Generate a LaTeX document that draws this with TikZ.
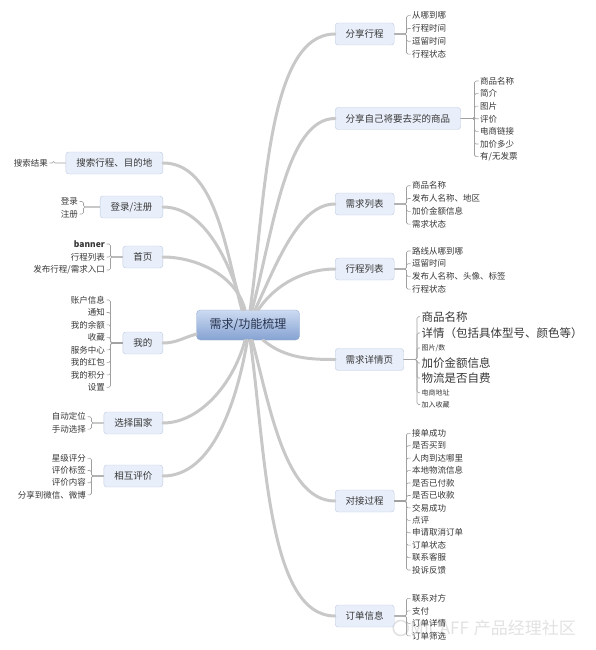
\documentclass[tikz,border=0pt]{standalone}
\usepackage{fontspec}
\setmainfont{Noto Sans CJK SC}
\usepackage{xcolor}
\usepackage{tikz}
\usetikzlibrary{positioning,calc}
\definecolor{topicbg}{RGB}{233,239,250}
\definecolor{topicline}{RGB}{190,203,226}
\definecolor{roothigh}{RGB}{205,219,242}
\definecolor{rootlow}{RGB}{133,162,210}
\definecolor{rootline}{RGB}{145,170,208}
\definecolor{trunkgray}{RGB}{200,200,200}
\definecolor{twiggray}{RGB}{160,160,160}
\definecolor{inkgray}{RGB}{55,55,55}
\definecolor{rootink}{RGB}{40,52,78}
\definecolor{markgray}{RGB}{226,226,226}

\begin{document}
\begin{tikzpicture}[x=1pt,y=-1pt,
  root/.style={draw=rootline,rounded corners=4pt,top color=roothigh,bottom color=rootlow,minimum width=103pt,minimum height=30pt,font=\fontsize{12}{14}\selectfont,text=rootink},
  topic/.style={draw=topicline,rounded corners=3pt,fill=topicbg,minimum height=22pt,inner xsep=10.5pt,font=\fontsize{9.5}{11}\selectfont,text=inkgray},
  kid/.style={inner sep=1.5pt,font=\fontsize{8.5}{10}\selectfont,text=inkgray},
  kidbig/.style={inner sep=1.5pt,font=\fontsize{11.5}{12}\selectfont,text=inkgray},
  kidsmall/.style={inner sep=1.5pt,font=\fontsize{7}{8}\selectfont,text=inkgray},
  trunk/.style={draw=trunkgray,line width=3pt,line cap=round},
  twig/.style={draw=twiggray,line width=0.6pt,rounded corners=1.5pt}]
\useasboundingbox (0,0) rectangle (596,650);

% watermark
\node[anchor=west,text=markgray,font=\fontsize{17}{17}\selectfont,inner sep=0pt] (mark) at (410,628) {MICAFF\hspace{5pt}产品经理社区};
\node[circle,draw=markgray,line width=1.6pt,minimum size=15pt,left=1pt of mark] (logo) {};

% centre and main topics
\node[root] (c) at (248,325) {需求/功能梳理};

\node[topic,anchor=west] (trip) at (335,34) {分享行程};
\node[topic,anchor=west] (goods) at (335,118.5) {分享自己将要去买的商品};
\node[topic,anchor=west] (need) at (335,204) {需求列表};
\node[topic,anchor=west] (route) at (335,269) {行程列表};
\node[topic,anchor=west] (detail) at (335,359.5) {需求详情页};
\node[topic,anchor=west] (deal) at (335,501) {对接过程};
\node[topic,anchor=west] (order) at (335,616) {订单信息};

\node[topic,anchor=east] (search) at (163,163) {搜索行程、目的地};
\node[topic,anchor=east] (login) at (163,207) {登录/注册};
\node[topic,anchor=east] (home) at (163,257) {首页};
\node[topic,anchor=east] (mine) at (163,343) {我的};
\node[topic,anchor=east] (nation) at (163,423) {选择国家};
\node[topic,anchor=east] (rate) at (163,476) {相互评价};

% trunks
\draw[trunk] (c.82) to[out=82,in=180,in looseness=0.6] (trip.west);
\draw[trunk] (c.75) to[out=75,in=180,in looseness=0.6] (goods.west);
\draw[trunk] (c.65) to[out=65,in=180,in looseness=0.7] (need.west);
\draw[trunk] (c.56) to[out=56,in=180,in looseness=0.8] (route.west);
\draw[trunk] (c.-45) to[out=-40,in=180,in looseness=0.8] (detail.west);
\draw[trunk] (c.-75) to[out=-75,in=180,in looseness=0.7] (deal.west);
\draw[trunk] (c.-82) to[out=-82,in=180,in looseness=0.6] (order.west);

\draw[trunk] (c.112) to[out=105,in=0,in looseness=0.8] (search.east);
\draw[trunk] (c.108) to[out=105,in=0,in looseness=0.8] (login.east);
\draw[trunk] (c.101) to[out=105,in=0,in looseness=0.8] (home.east);
\draw[trunk] (c.190) to[out=195,in=0] (mine.east);
\draw[trunk] (c.-101) to[out=-105,in=0,in looseness=0.8] (nation.east);
\draw[trunk] (c.-92) to[out=-100,in=0,in looseness=0.8] (rate.east);

% right leaves
\foreach \t [count=\i from 0] in {从哪到哪,行程时间,逗留时间,行程状态} {
  \node[kid,anchor=west] (trip-\i) at (410.5,15.7+12.8*\i) {\t};
  \draw[twig] (trip-\i.west) -- ++(-4,0) |- (trip.east);
}
\foreach \t [count=\i from 0] in {商品名称,简介,图片,评价,电商链接,加价多少,{有/无发票}} {
  \node[kid,anchor=west] (goods-\i) at (478.5,81+12.6*\i) {\t};
  \draw[twig] (goods-\i.west) -- ++(-4,0) |- (goods.east);
}
\foreach \t [count=\i from 0] in {商品名称,发布人名称、地区,加价金额信息,需求状态} {
  \node[kid,anchor=west] (need-\i) at (410.5,185.7+12.8*\i) {\t};
  \draw[twig] (need-\i.west) -- ++(-4,0) |- (need.east);
}
\foreach \t [count=\i from 0] in {路线从哪到哪,逗留时间,发布人名称、头像、标签,行程状态} {
  \node[kid,anchor=west] (route-\i) at (410.5,251+12.7*\i) {\t};
  \draw[twig] (route-\i.west) -- ++(-4,0) |- (route.east);
}
\foreach \y/\s/\t [count=\i] in {316.7/kidbig/商品名称,333/kidbig/详情（包括具体型号、颜色等）,348/kidsmall/{图片/数},363/kidbig/加价金额信息,378/kidbig/物流是否自费,392.7/kidsmall/电商地址,404.5/kidsmall/加入收藏} {
  \node[\s,anchor=west] (detail-\i) at (420,\y) {\t};
  \draw[twig] (detail-\i.west) -- ++(-3,0) |- (detail.east);
}
\foreach \t [count=\i from 0] in {接单成功,是否买到,人肉到达哪里,本地物流信息,是否已付款,是否已收款,交易成功,点评,申请取消订单,订单状态,联系客服,投诉反馈} {
  \node[kid,anchor=west] (deal-\i) at (410.5,433.3+12.43*\i) {\t};
  \draw[twig] (deal-\i.west) -- ++(-4,0) |- (deal.east);
}
\foreach \t [count=\i from 0] in {联系对方,支付,订单详情,订单筛选} {
  \node[kid,anchor=west] (order-\i) at (410.5,598.3+12.5*\i) {\t};
  \draw[twig] (order-\i.west) -- ++(-4,0) |- (order.east);
}

% left leaves
\node[kid,anchor=east] (search-0) at (49.5,163) {搜索结果};
\draw[twig] (search-0.east) -- ++(4,0) |- (search.west);
\foreach \t [count=\i from 0] in {登录,注册} {
  \node[kid,anchor=east] (login-\i) at (79.5,201.5+12.5*\i) {\t};
  \draw[twig] (login-\i.east) -- ++(4,0) |- (login.west);
}
\foreach \t [count=\i from 0] in {\bfseries banner,行程列表,{发布行程/需求入口}} {
  \node[kid,anchor=east] (home-\i) at (106.5,244+13*\i) {\t};
  \draw[twig] (home-\i.east) -- ++(4,0) |- (home.west);
}
\foreach \t [count=\i from 0] in {账户信息,通知,我的余额,收藏,服务中心,我的红包,我的积分,设置} {
  \node[kid,anchor=east] (mine-\i) at (106.5,300+12.47*\i) {\t};
  \draw[twig] (mine-\i.east) -- ++(4,0) |- (mine.west);
}
\foreach \t [count=\i from 0] in {自动定位,手动选择} {
  \node[kid,anchor=east] (nation-\i) at (87.5,416.7+12.4*\i) {\t};
  \draw[twig] (nation-\i.east) -- ++(4,0) |- (nation.west);
}
\foreach \t [count=\i from 0] in {星级评分,评价标签,评价内容,分享到微信、微博} {
  \node[kid,anchor=east] (rate-\i) at (87.5,458.3+12.2*\i) {\t};
  \draw[twig] (rate-\i.east) -- ++(4,0) |- (rate.west);
}
\end{tikzpicture}
\end{document}
